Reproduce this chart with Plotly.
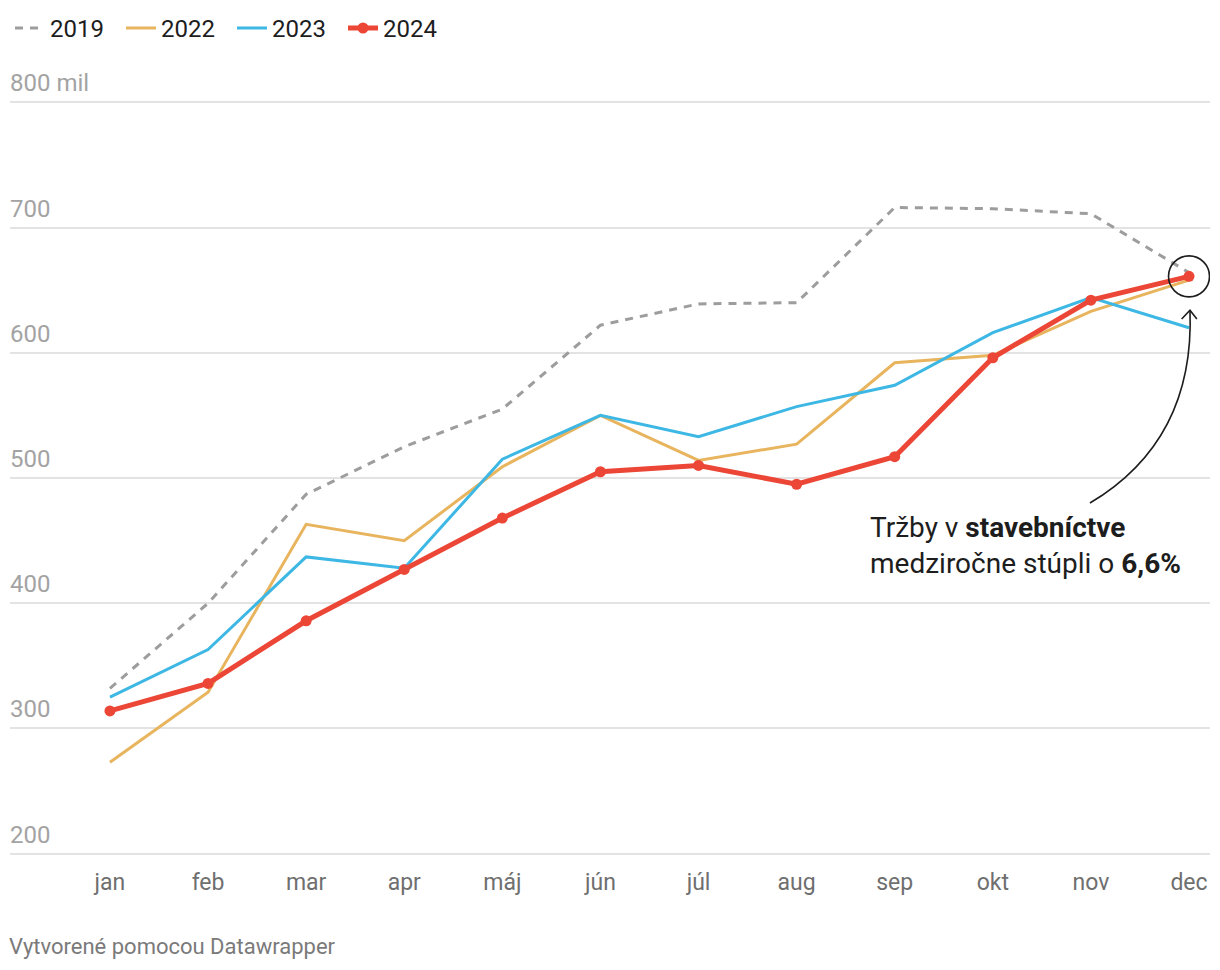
import plotly.graph_objects as go

months = ["jan", "feb", "mar", "apr", "máj", "jún", "júl", "aug", "sep", "okt", "nov", "dec"]
v2019 = [332, 400, 487, 525, 555, 622, 639, 640, 716, 715, 711, 664]
v2022 = [273, 329, 463, 450, 509, 550, 514, 527, 592, 598, 633, 658]
v2023 = [325, 363, 437, 428, 515, 550, 533, 557, 574, 616, 644, 620]
v2024 = [314, 336, 386, 427, 468, 505, 510, 495, 517, 596, 642, 661]

y_ticks = [200, 300, 400, 500, 600, 700, 800]
y_tick_text = ["200", "300", "400", "500", "600", "700", "800 mil"]

FONT = "Roboto"
xs = list(range(len(months)))

fig = go.Figure()
fig.add_trace(go.Scatter(x=xs, y=v2019, name="2019", mode="lines",
                         line=dict(color="#9d9d9d", width=3, dash="8px,7px")))
fig.add_trace(go.Scatter(x=xs, y=v2022, name="2022", mode="lines",
                         line=dict(color="#e8b45e", width=3)))
fig.add_trace(go.Scatter(x=xs, y=v2023, name="2023", mode="lines",
                         line=dict(color="#3db7e4", width=3)))
fig.add_trace(go.Scatter(x=xs, y=v2024, name="2024", mode="lines+markers",
                         line=dict(color="#ec4637", width=5),
                         marker=dict(color="#ec4637", size=11)))

annotations = []
for v, t in zip(y_ticks, y_tick_text):
    annotations.append(dict(x=0, xref="paper", y=v, yref="y", text=t,
                            showarrow=False, xanchor="left", yanchor="bottom",
                            xshift=-2, yshift=3, font=dict(family=FONT, size=24, color="#a3a3a3")))

annotations.append(dict(x=7.77, xref="x", y=446, yref="y",
                        text="Tržby v <b>stavebníctve</b><br>medziročne stúpli o <b>6,6%</b>",
                        showarrow=False, xanchor="left", yanchor="middle", align="left",
                        xshift=-4,
                        font=dict(family=FONT, size=28, color="#1d1d1d")))
annotations.append(dict(x=0, xref="paper", y=-0.1126, yref="paper",
                        text="Vytvorené pomocou Datawrapper", showarrow=False,
                        xanchor="left", yanchor="middle", xshift=-3,
                        font=dict(family=FONT, size=22, color="#7a7a7a")))

last_x = xs[-1]
last_y = v2024[-1]
shapes = [
    dict(type="circle", xref="x", yref="y", xsizemode="pixel", ysizemode="pixel",
         xanchor=last_x, yanchor=last_y, x0=-20.5, x1=20.5, y0=-20.5, y1=20.5,
         line=dict(color="#1d1d1d", width=1.6)),
    dict(type="path", xref="x", yref="y",
         path=f"M 9.99 480 Q 11.06 530 {last_x + 0.01} 634",
         line=dict(color="#1d1d1d", width=1.6)),
    dict(type="path", xref="x", yref="y",
         path=f"M {last_x - 0.075} 627 L {last_x + 0.01} 634 L {last_x + 0.08} 627",
         line=dict(color="#1d1d1d", width=1.6)),
]

fig.update_layout(
    width=1220, height=970,
    margin=dict(l=10, r=10, t=96, b=110, autoexpand=False),
    paper_bgcolor="white", plot_bgcolor="white",
    font=dict(family=FONT),
    showlegend=True,
    legend=dict(orientation="h", x=0, y=1.0885, xanchor="left", yanchor="middle",
                font=dict(family=FONT, size=24, color="#1d1d1d"),
                entrywidth=66, entrywidthmode="pixels",
                traceorder="normal", bgcolor="rgba(0,0,0,0)"),
    xaxis=dict(range=[-1.019, 11.214], tickvals=xs, ticktext=months,
               showgrid=False, zeroline=False, showline=False,
               ticks="outside", ticklen=1, tickcolor="rgba(0,0,0,0)",
               tickfont=dict(family=FONT, size=23, color="#6f6f6f"),
               fixedrange=True, automargin=False),
    yaxis=dict(range=[195, 805], tickvals=y_ticks, showticklabels=False,
               showgrid=True, gridcolor="#e3e3e3", gridwidth=1.5,
               zeroline=False, showline=False, fixedrange=True, automargin=False),
    annotations=annotations,
    shapes=shapes,
)

fig.write_html("out.html", config={"displayModeBar": False},
               post_script="document.body.style.margin='0px';")
